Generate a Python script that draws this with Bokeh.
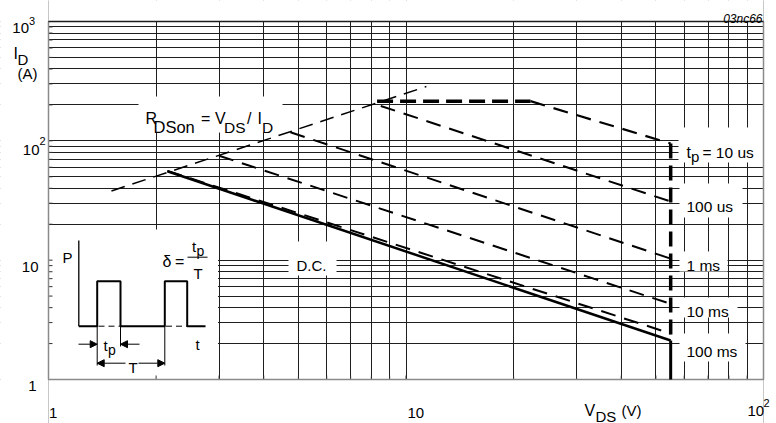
from bokeh.plotting import figure
from bokeh.models import FixedTicker, Label, Arrow, NormalHead, Grid, Range1d
from bokeh.embed import file_html
from bokeh.resources import INLINE

# ---------------- data ----------------
x_major = [1, 10, 100]
x_minor = [2, 3, 4, 5, 6, 7, 8, 9, 20, 30, 40, 50, 60, 70, 80, 90]
y_major = [1, 10, 100, 1000]
y_minor = [2, 3, 4, 5, 6, 7, 8, 9, 20, 30, 40, 50, 60, 70, 80, 90,
           200, 300, 400, 500, 600, 700, 800, 900]

vds_max = 55
rdson_vds = [1.5, 11.4]
rdson_id = [38, 285]
tp10us_flat_vds = [8.3, 22.3]
tp10us_flat_id = [215, 215]
tp10us_vds = [22.3, 55]
tp10us_id = [215, 95]
tp100us_vds = [8.5, 55]
tp100us_id = [196, 31]
tp1ms_vds = [4.75, 55]
tp1ms_id = [118, 10.3]
tp10ms_vds = [3.0, 55]
tp10ms_id = [75, 4.3]
tp100ms_vds = [2.15, 55]
tp100ms_id = [56, 2.43]
dc_vds = [2.15, 55]
dc_id = [55.6, 2.12]
limit_id_top = 95
limit_id_dc = 2.12
limit_id_bottom = 1

# ---------------- geometry: chart box inside the canvas ----------------
W, H = 776, 423
FX0, FX1, FY0, FY1 = 48.0, 763.0, 379.0, 21.0
XMIN, XMAX, YMIN, YMAX = 1, 100, 1, 1000
def px2x(px):
    return 10 ** ((px - FX0) / (FX1 - FX0) * 2)
def px2y(py):
    return 10 ** ((FY0 - py) / (FY0 - FY1) * 3)

FONT = "Liberation Sans"
xr = Range1d(px2x(0), px2x(W))
yr = Range1d(px2y(H), px2y(0))

p = figure(width=W, height=H, x_axis_type="log", y_axis_type="log",
           x_range=xr, y_range=yr, x_axis_location=None, y_axis_location=None,
           output_backend="svg", toolbar_location=None, min_border=0)
p.background_fill_color = "white"
p.border_fill_color = "white"
p.outline_line_color = None

xt = FixedTicker(ticks=x_major, minor_ticks=x_minor)
yt = FixedTicker(ticks=y_major, minor_ticks=y_minor)
for dim, tk in ((0, xt), (1, yt)):
    g = Grid(dimension=dim, ticker=tk, grid_line_color="#1e1e1e", grid_line_width=1,
             minor_grid_line_color="#1e1e1e", minor_grid_line_width=1)
    p.add_layout(g)

# mask the grid outside the chart box (extends past the canvas)
lo_x, hi_x = xr.start / 3, xr.end * 3
lo_y, hi_y = yr.start / 3, yr.end * 3
p.quad(left=[lo_x, XMAX, XMIN, XMIN], right=[XMIN, hi_x, XMAX, XMAX],
       bottom=[lo_y, lo_y, lo_y, YMAX], top=[hi_y, hi_y, YMIN, hi_y],
       fill_color="white", line_color=None)

# ---------------- white label boxes that interrupt the grid ----------------
boxes_px = [
    (138, 282, 96, 132),    # RDSon label
    (288, 336, 241, 275),   # D.C.
    (48, 217.5, 229, 379),  # pulse inset
    (678, 763, 127, 162),   # tp = 10 us
    (679, 742, 183, 217),   # 100 us
    (679, 727, 251, 271),   # 1 ms
    (679, 737, 297, 317),   # 10 ms
    (679, 745, 333, 361),   # 100 ms
]
p.quad(left=[px2x(b[0]) for b in boxes_px], right=[px2x(b[1]) for b in boxes_px],
       top=[px2y(b[2]) for b in boxes_px], bottom=[px2y(b[3]) for b in boxes_px],
       fill_color="white", line_color=None)

# inside ticks on left and bottom axes
y_all = sorted(y_major + y_minor)
x_all = sorted(x_major + x_minor)
p.segment(x0=[XMIN] * len(y_all), y0=y_all, x1=[px2x(FX0 + 4)] * len(y_all), y1=y_all,
          line_color="#333333", line_width=1)
p.segment(x0=x_all, y0=[YMIN] * len(x_all), x1=x_all, y1=[px2y(FY0 - 4)] * len(x_all),
          line_color="#333333", line_width=1)

# chart frame
p.line([XMIN, XMIN, XMAX, XMAX], [YMAX, YMIN, YMIN, YMAX], line_color="#8a8a8a", line_width=1.5)
p.line([XMIN, XMAX], [YMAX, YMAX], line_color="#1e1e1e", line_width=1.3)

# ---------------- curves ----------------
p.line(rdson_vds, rdson_id, line_color="black", line_width=1.5, line_dash="14 8")
p.line(tp10us_flat_vds, tp10us_flat_id, line_color="black", line_width=3.5, line_dash="16 7")
p.line(tp10us_vds, tp10us_id, line_color="black", line_width=2.2, line_dash="15 9")
p.line(tp100us_vds, tp100us_id, line_color="black", line_width=2, line_dash="15 9")
p.line(tp1ms_vds, tp1ms_id, line_color="black", line_width=2, line_dash="15 9")
p.line(tp10ms_vds, tp10ms_id, line_color="black", line_width=2, line_dash="15 9")
p.line(tp100ms_vds, tp100ms_id, line_color="black", line_width=2, line_dash="15 9")
p.line(dc_vds, dc_id, line_color="black", line_width=2.5)
p.line([vds_max, vds_max], [limit_id_top, limit_id_dc], line_color="black",
       line_width=3.5, line_dash="15 7")
p.line([vds_max, vds_max], [limit_id_dc, limit_id_bottom], line_color="black", line_width=3)

# ---------------- texts ----------------
def txt(s, px, py, size="15px", align="left", style="normal"):
    p.add_layout(Label(x=px2x(px), y=px2y(py), text=s, text_font=FONT,
                       text_font_size=size, text_align=align,
                       text_baseline="alphabetic", text_font_style=style,
                       text_color="black"))

txt("03nc66", 762, 18, "12px", "right", "italic")
# y title
txt("I", 13, 53, "16px")
txt("D", 17, 58.5, "15px")
txt("(A)", 17, 72.5, "15px")
# y tick labels
txt("1", 36, 385, "15px", "right")
txt("10", 38, 266, "15px", "right")
txt("10", 39, 149, "15px", "right")
txt("2", 39, 140, "11px")
txt("10", 28.5, 27, "15px", "right")
txt("3", 28.5, 20, "11px")
# x tick labels
txt("1", 48.5, 412, "15px")
txt("10", 407, 412, "15px")
txt("10", 747, 410, "15px")
txt("2", 763, 402, "11px")
# x title
txt("V", 584, 410, "16px")
txt("DS", 595, 415.5, "15px")
txt("(V)", 621, 410, "15px")
# RDSon label
txt("R", 145, 118, "16px")
txt("DSon", 153, 126.5, "16.5px")
txt("=", 200.5, 118, "16px")
txt("V", 214.5, 118, "16px")
txt("DS", 223.5, 126.5, "15.5px")
txt("/", 246.5, 118, "16px")
txt("I", 257, 118, "16px")
txt("D", 261.5, 126.5, "15.5px")
# D.C.
txt("D.C.", 296, 265, "15px")
# pulse labels
txt("t", 686, 152, "16px")
txt("p", 690.5, 156, "15px")
txt("= 10 us", 702, 152, "15.5px")
txt("100 us", 686, 206, "15.5px")
txt("1 ms", 686, 265, "15.5px")
txt("10 ms", 686, 310.7, "15.5px")
txt("100 ms", 686, 350.7, "15.5px")

# ---------------- pulse inset schematic ----------------
def pline(pts, **kw):
    p.line([px2x(a) for a, b in pts], [px2y(b) for a, b in pts], line_color="black", **kw)

base, high = 325.7, 280.7
pline([(78.3, base), (96.7, base), (96.7, high), (120, high), (120, base),
       (164.3, base), (164.3, high), (186.7, high), (186.7, base), (205, base)], line_width=2)
pline([(78.3, 240), (78.3, base)], line_width=1.3)
pline([(98, base), (120, base)], line_width=1, line_dash="6 4")
pline([(165.5, base), (186.7, base)], line_width=1, line_dash="6 4")
pline([(96.7, base), (96.7, 365)], line_width=1)
pline([(120, base), (120, 346)], line_width=1)
pline([(164.3, base), (164.3, 365)], line_width=1)
pline([(187, 256.7), (207, 256.7)], line_width=1)

def arrow(x0, y0, x1, y1):
    p.add_layout(Arrow(end=NormalHead(size=7, fill_color="black", line_color="black"),
                       x_start=px2x(x0), y_start=px2y(y0), x_end=px2x(x1), y_end=px2y(y1),
                       line_color="black", line_width=1))
arrow(78, 343.7, 96.7, 343.7)
arrow(139, 343.7, 120, 343.7)
arrow(125, 362.7, 96.7, 362.7)
arrow(138, 362.7, 164.3, 362.7)

txt("P", 62, 257, "15px")
txt("t", 195, 344, "15px")
txt("t", 103, 345, "15px")
txt("p", 107.5, 349.5, "14px")
txt("T", 128, 367, "15px")
txt("δ", 162, 261, "16px")
txt("=", 174.5, 261, "16px")
txt("t", 191.5, 246, "15px")
txt("p", 196, 250, "14px")
txt("T", 193, 273, "15px")

open("out.html", "w").write(file_html(p, INLINE))
